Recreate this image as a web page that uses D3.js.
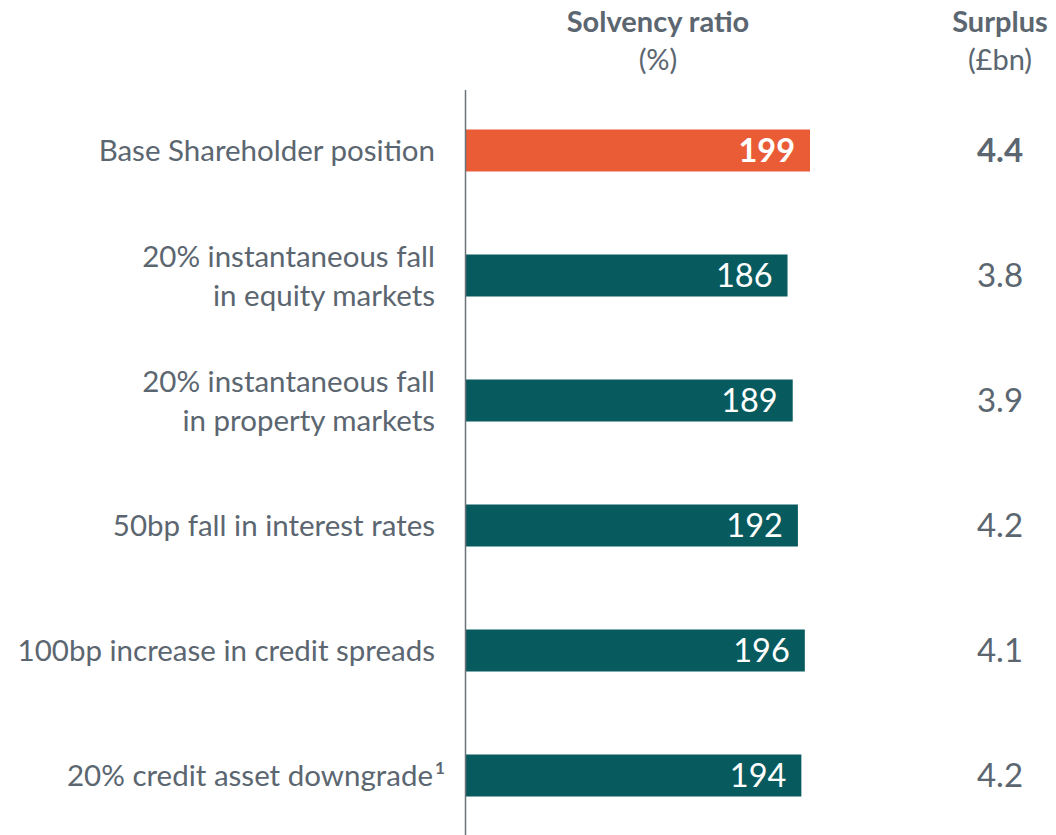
<!DOCTYPE html>
<html>
<head>
<meta charset="utf-8">
<script src="https://cdn.jsdelivr.net/npm/d3@7"></script>
<style>
  html, body { margin: 0; padding: 0; background: #fff; }
  svg { display: block; font-family: Lato, "Open Sans", sans-serif; }
</style>
</head>
<body>
<svg id="chart" width="1056" height="835"></svg>
<script>
// Sensitivity scenarios (label lines), solvency ratio (%) and surplus (£bn)
const scenarios = [
  ["Base Shareholder position"],
  ["20% instantaneous fall", "in equity markets"],
  ["20% instantaneous fall", "in property markets"],
  ["50bp fall in interest rates"],
  ["100bp increase in credit spreads"],
  ["20% credit asset downgrade"]
];
const solvency = [199, 186, 189, 192, 196, 194];
const surplus = ["4.4", "3.8", "3.9", "4.2", "4.1", "4.2"];
const footnotes = ["", "", "", "", "", "1"];

const grey = "#5b6670";
const orange = "#ea5c36";
const teal = "#075a5e";

const svg = d3.select("#chart");

const x0 = 466;
const x = d3.scaleLinear().domain([0, 199]).range([x0, 810]);
const y = d3.scaleBand()
  .domain(d3.range(scenarios.length))
  .range([88, 838])
  .paddingInner(0.664)
  .paddingOuter(0.332);

// Column headers
const headers = [
  { cx: 658, title: "Solvency ratio", unit: "(%)" },
  { cx: 1000, title: "Surplus", unit: "(£bn)" }
];
headers.forEach(h => {
  svg.append("text").attr("x", h.cx).attr("y", 32)
    .attr("text-anchor", "middle").attr("fill", grey)
    .attr("font-size", 29).attr("font-weight", 700).text(h.title);
  svg.append("text").attr("x", h.cx).attr("y", 70)
    .attr("text-anchor", "middle").attr("fill", grey)
    .attr("font-size", 29).text(h.unit);
});

// Bars
svg.selectAll("rect.bar").data(solvency).join("rect")
  .attr("class", "bar")
  .attr("x", x(0))
  .attr("y", (d, i) => y(i))
  .attr("width", d => x(d) - x(0))
  .attr("height", y.bandwidth())
  .attr("fill", (d, i) => i === 0 ? orange : teal);

// Vertical axis line
svg.append("line")
  .attr("x1", x0 - 0.5).attr("x2", x0 - 0.5)
  .attr("y1", 90).attr("y2", 835)
  .attr("stroke", "#6b737a").attr("stroke-width", 1.5);

// Value labels inside bars
svg.selectAll("text.val").data(solvency).join("text")
  .attr("class", "val")
  .attr("x", d => x(d) - 15)
  .attr("y", (d, i) => y(i) + y.bandwidth() / 2)
  .attr("dy", "0.36em")
  .attr("text-anchor", "end")
  .attr("fill", "#fff")
  .attr("font-size", 32.5)
  .attr("font-weight", (d, i) => i === 0 ? 700 : 400)
  .text(d => d);

// Surplus column
svg.selectAll("text.surplus").data(surplus).join("text")
  .attr("class", "surplus")
  .attr("x", 1000)
  .attr("y", (d, i) => y(i) + y.bandwidth() / 2)
  .attr("dy", "0.36em")
  .attr("text-anchor", "middle")
  .attr("fill", grey)
  .attr("font-size", 33)
  .attr("font-weight", (d, i) => i === 0 ? 700 : 400)
  .text(d => d);

// Category labels, right-aligned to the axis
const lineGap = 39;
scenarios.forEach((lines, i) => {
  const cy = y(i) + y.bandwidth() / 2;
  const top = cy - (lines.length - 1) * lineGap / 2;
  const t = svg.append("text")
    .attr("text-anchor", "end")
    .attr("fill", grey)
    .attr("font-size", 29.5);
  lines.forEach((ln, k) => {
    const isLast = k === lines.length - 1;
    t.append("tspan")
      .attr("x", footnotes[i] && isLast ? 433 : 435)
      .attr("y", top + k * lineGap)
      .attr("dy", "0.36em")
      .text(ln);
  });
  if (footnotes[i]) {
    // superscript footnote marker
    svg.append("text")
      .attr("x", 435).attr("y", cy - 2)
      .attr("fill", grey).attr("font-size", 17).attr("font-weight", 700)
      .text(footnotes[i]);
  }
});
</script>
</body>
</html>
